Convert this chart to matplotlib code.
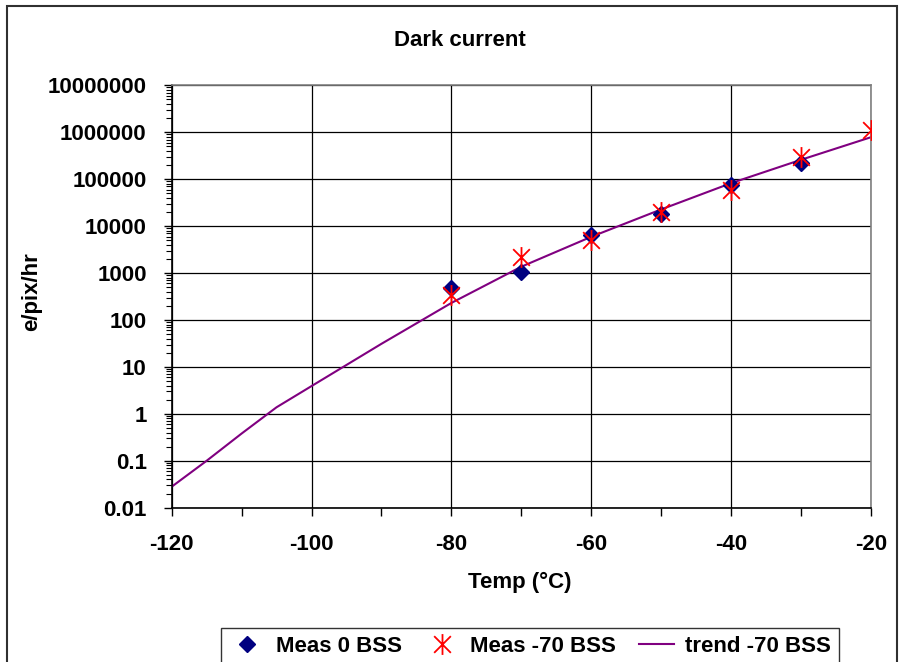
import matplotlib
matplotlib.use("Agg")
import matplotlib.pyplot as plt
from matplotlib.path import Path
from matplotlib.patches import Rectangle
from matplotlib.ticker import LogLocator, FixedLocator, NullFormatter, FuncFormatter

plt.rcParams['font.family'] = ['Liberation Sans', 'DejaVu Sans']
plt.rcParams['font.weight'] = 'bold'

# Measured dark current (e/pix/hr) vs temperature (deg C)
temp_0bss = [-80, -70, -60, -50, -40, -30]
dark_0bss = [470, 1065, 6450, 17700, 75600, 226000]

temp_70bss = [-80, -70, -60, -50, -40, -30, -20]
dark_70bss = [340, 2230, 5040, 20000, 59200, 293000, 1120000]

# Trend curve for -70 BSS
temp_trend = [-120, -115, -110, -105, -100, -90, -80, -70, -60, -50, -40, -30, -20]
dark_trend = [0.028, 0.10, 0.38, 1.38, 3.9, 31, 230, 1360, 5900, 22600, 82000, 258000, 780000]

x_ticks = [-120, -100, -80, -60, -40, -20]
y_ticks = [0.01, 0.1, 1, 10, 100, 1000, 10000, 100000, 1000000, 10000000]

W, H = 901, 662
fig = plt.figure(figsize=(W / 100, H / 100), dpi=100)

# chart-area frame
fig.patches.append(Rectangle((7 / W, -0.05), 890 / W, 1 - 6 / H + 0.05,
                             transform=fig.transFigure, fill=False,
                             edgecolor='#303030', linewidth=1.5))

left, right, top, bottom = 171.7, 870.7, 85.3, 507.7
ax = fig.add_axes([left / W, 1 - bottom / H, (right - left) / W, (bottom - top) / H])

# Excel-style asterisk: X with a vertical bar
star = Path([(-1, -1), (1, 1), (-1, 1), (1, -1), (0, -1.25), (0, 1.25)],
            [Path.MOVETO, Path.LINETO, Path.MOVETO, Path.LINETO, Path.MOVETO, Path.LINETO])

ax.plot(temp_0bss, dark_0bss, linestyle='none', marker='D', markersize=8.5,
        color='#000080', label='Meas 0 BSS', zorder=3)
ax.plot(temp_70bss, dark_70bss, linestyle='none', marker=star, markersize=15,
        markeredgewidth=1.3, color='#FF0000', markerfacecolor='none',
        label='Meas -70 BSS', zorder=4)
ax.plot(temp_trend, dark_trend, color='#800080', linewidth=1.5,
        label='trend -70 BSS', zorder=2)

ax.set_yscale('log')
ax.set_xlim(-120, -20)
ax.set_ylim(0.01, 1e7)

ax.xaxis.set_major_locator(FixedLocator(x_ticks))
ax.xaxis.set_minor_locator(FixedLocator([-110, -90, -70, -50, -30]))
ax.yaxis.set_major_locator(FixedLocator(y_ticks))
ax.yaxis.set_minor_locator(LogLocator(base=10, subs=range(2, 10), numticks=20))
ax.yaxis.set_minor_formatter(NullFormatter())

def fmt_y(v, pos):
    if v >= 1:
        return f"{int(round(v))}"
    return f"{v:g}"

ax.yaxis.set_major_formatter(FuncFormatter(fmt_y))
ax.xaxis.set_major_formatter(FuncFormatter(lambda v, p: f"{int(v)}"))

ax.grid(True, which='major', color='black', linewidth=0.9)
ax.set_axisbelow(True)

ax.tick_params(axis='both', which='major', direction='out', length=6, width=1,
               labelsize=16, colors='black')
ax.tick_params(axis='x', which='major', pad=13)
ax.tick_params(axis='y', which='major', pad=12)
ax.tick_params(axis='x', which='minor', direction='out', length=6, width=1)
ax.tick_params(axis='y', which='minor', direction='out', length=4, width=0.8)

for s in ['left', 'bottom']:
    ax.spines[s].set_color('black')
    ax.spines[s].set_linewidth(1.2)
for s in ['right', 'top']:
    ax.spines[s].set_color('#808080')
    ax.spines[s].set_linewidth(1.2)

fig.text(460 / W, 1 - 40 / H, 'Dark current', ha='center', va='center',
         fontsize=16, fontweight='bold')
fig.text(520 / W, 1 - 582 / H, 'Temp (°C)', ha='center', va='center',
         fontsize=16, fontweight='bold')
fig.text(32 / W, 1 - 292 / H, 'e/pix/hr', ha='center', va='center',
         rotation=90, fontsize=16, fontweight='bold')

leg = fig.legend(loc='upper center', bbox_to_anchor=(530 / W, 1 - 617 / H), ncol=3,
                 fontsize=16, frameon=True, fancybox=False, edgecolor='black',
                 handlelength=1.6, handletextpad=0.5, columnspacing=1.0,
                 borderpad=0.35)
leg.get_frame().set_linewidth(1.0)

fig.savefig('out.png', dpi=100)
